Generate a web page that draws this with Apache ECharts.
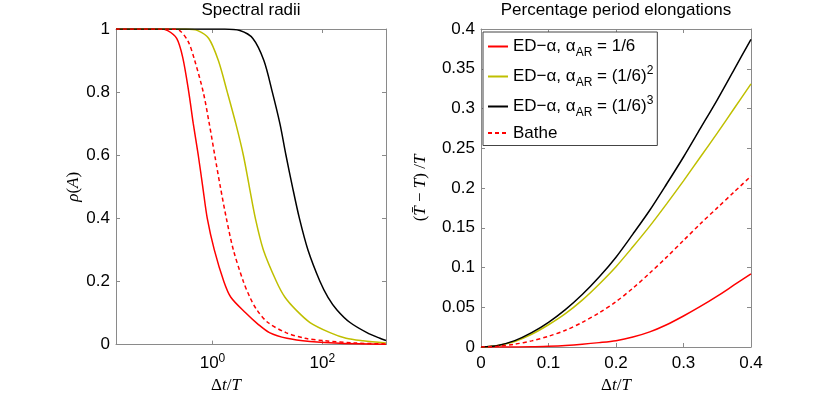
<!DOCTYPE html>
<html>
<head>
<meta charset="utf-8">
<script src="https://cdn.jsdelivr.net/npm/echarts@6/dist/echarts.min.js"></script>
<style>
  html, body { margin: 0; padding: 0; background: #fff; }
  #main { width: 830px; height: 399px; }
</style>
</head>
<body>
<div id="main"></div>
<script>
// spectral radii, [dt/T, rho]
var rhoEd1 = [[0.0175, 1], [0.109, 1], [0.153, 0.995], [0.223, 0.97], [0.287, 0.91], [0.370, 0.8], [0.447, 0.7],
	[0.551, 0.6], [0.665, 0.5], [0.804, 0.4], [1.08, 0.3], [1.61, 0.2], [2.16, 0.15], [4.05, 0.1], [6.71, 0.065],
	[10.9, 0.038], [22.7, 0.02], [59.7, 0.01], [210, 0.004], [1445, 0.001]];
var rhoEd2 = [[0.0175, 1], [0.326, 1], [0.539, 0.995], [0.856, 0.97], [1.28, 0.9], [1.86, 0.8], [2.66, 0.7],
	[3.65, 0.6], [4.69, 0.5], [6.04, 0.4], [8.45, 0.3], [14.6, 0.2], [20.9, 0.15], [33.1, 0.11], [59.7, 0.07],
	[138, 0.038], [271, 0.02], [553, 0.012], [1445, 0.005]];
var rhoEd3 = [[0.0175, 1], [1.68, 1], [3.15, 0.995], [5.44, 0.97], [8.63, 0.9], [12.3, 0.8], [16.9, 0.7],
	[21.8, 0.6], [28.6, 0.5], [38.3, 0.4], [54.8, 0.3], [90.8, 0.2], [127, 0.15], [185, 0.11], [320, 0.07],
	[649, 0.038], [1120, 0.02], [1445, 0.013]];
var rhoBathe = [[0.0175, 1], [0.181, 1], [0.253, 0.995], [0.362, 0.96], [0.475, 0.9], [0.679, 0.8], [0.874, 0.7],
	[1.10, 0.6], [1.39, 0.5], [1.79, 0.4], [2.40, 0.3], [3.65, 0.2], [4.80, 0.15], [6.43, 0.11], [10.2, 0.07],
	[21.8, 0.038], [48.3, 0.02], [112, 0.012], [395, 0.005], [1445, 0.002]];

// period elongations
var peX = [0, 0.025, 0.05, 0.075, 0.1, 0.125, 0.15, 0.175, 0.2, 0.225, 0.25, 0.275, 0.3, 0.325, 0.35, 0.375, 0.4];
var peEd1 = [0, 0, 0.0001, 0.0003, 0.001, 0.002, 0.0035, 0.0055, 0.008, 0.0125, 0.019, 0.028, 0.039, 0.051, 0.064, 0.078, 0.092];
var peEd2 = [0, 0.002, 0.007, 0.016, 0.028, 0.042, 0.059, 0.079, 0.101, 0.126, 0.152, 0.180, 0.209, 0.239, 0.269, 0.300, 0.331];
var peEd3 = [0, 0.002, 0.008, 0.018, 0.031, 0.047, 0.066, 0.088, 0.113, 0.142, 0.172, 0.205, 0.239, 0.275, 0.311, 0.349, 0.387];
var peBathe = [0, 0.001, 0.0035, 0.0077, 0.0135, 0.021, 0.031, 0.043, 0.057, 0.074, 0.093, 0.113, 0.134, 0.155, 0.175, 0.195, 0.215];

var names = ['ed1', 'ed2', 'ed3', 'bathe'];
var legendText = {
	ed1: '{t|ED\u2212\u03b1, \u03b1}{sub|AR}{t| = 1/6}',
	ed2: '{t|ED\u2212\u03b1, \u03b1}{sub|AR}{t| = (1/6)}{sup|2}',
	ed3: '{t|ED\u2212\u03b1, \u03b1}{sub|AR}{t| = (1/6)}{sup|3}',
	bathe: '{t|Bathe}'
};
var colors = {ed1: '#ff0000', ed2: '#bfbf00', ed3: '#000000', bathe: '#ff0000'};

var font = 'Liberation Sans, Arial, sans-serif';
var serif = 'Liberation Serif, DejaVu Serif, serif';
var boxColor = '#8a8a8a';

function pairs(xs, ys) {
	return xs.map(function (x, i) { return [x, ys[i]]; });
}

function lineSeries(name, data, idx, dashed) {
	return {
		name: name,
		type: 'line',
		xAxisIndex: idx,
		yAxisIndex: idx,
		data: data,
		symbol: 'none',
		smooth: 0.3,
		lineStyle: {color: colors[name], width: 1.5, type: dashed ? [4, 3] : 'solid'},
		itemStyle: {color: colors[name]},
		z: name === 'bathe' ? 3 : 2
	};
}

function boxAxis(pos, grid, type, min, max, interval, extra) {
	var a = {
		type: type,
		gridIndex: grid,
		position: pos,
		min: min,
		max: max,
		axisLine: {show: true, onZero: false, lineStyle: {color: boxColor, width: 1}},
		axisTick: {show: true, inside: true, length: 4, lineStyle: {color: boxColor}},
		axisLabel: {show: false},
		splitLine: {show: false}
	};
	if (interval) a.interval = interval;
	return Object.assign(a, extra || {});
}

var mathRich = {
	i: {fontFamily: serif, fontStyle: 'italic', fontSize: 17, color: '#000'},
	u: {fontFamily: serif, fontSize: 17, color: '#000'}
};

var chart = echarts.init(document.getElementById('main'));
var option = {
	animation: false,
	backgroundColor: '#fff',
	textStyle: {fontFamily: font},
	title: [
		{text: 'Spectral radii', left: 251, top: 2, padding: 0, textAlign: 'center',
			textStyle: {fontSize: 17, fontWeight: 'normal', color: '#000', fontFamily: font}},
		{text: 'Percentage period elongations', left: 616, top: 2, padding: 0, textAlign: 'center',
			textStyle: {fontSize: 17, fontWeight: 'normal', color: '#000', fontFamily: font}}
	],
	grid: [
		{left: 116, top: 29, width: 270, height: 325},
		{left: 481, top: 29, width: 270, height: 325}
	],
	legend: {
		data: names,
		orient: 'vertical',
		left: 483,
		top: 32,
		padding: [6, 4, 4, 4],
		itemGap: 6,
		itemWidth: 20,
		itemHeight: 10,
		itemStyle: {opacity: 0},
		backgroundColor: '#fff',
		borderColor: '#444',
		borderWidth: 1,
		borderRadius: 0,
		formatter: function (n) { return legendText[n]; },
		textStyle: {
			rich: {
				t: {fontSize: 17, fontFamily: font, color: '#000', lineHeight: 26},
				sub: {fontSize: 12, fontFamily: font, color: '#000', padding: [12, 0, 0, 0]},
				sup: {fontSize: 12, fontFamily: font, color: '#000', padding: [0, 0, 12, 0]}
			}
		}
	},
	xAxis: [
		boxAxis('bottom', 0, 'log', 0.0175, 1445, null, {
			logBase: 10,
			name: '{u|\u0394}{i|t}{u|/}{i|T}',
			nameLocation: 'middle',
			nameGap: 30,
			nameTextStyle: {rich: mathRich, padding: [0, 50, 0, 0]},
			axisTick: {show: true, inside: true, length: 4, lineStyle: {color: boxColor}, customValues: [1, 100]},
			axisLabel: {
				show: true, margin: 8, color: '#000', customValues: [1, 100],
				formatter: function (v) { return '{b|10}{s|' + Math.round(Math.log10(v)) + '}'; },
				rich: {
					b: {fontSize: 17, fontFamily: font, color: '#000'},
					s: {fontSize: 12, fontFamily: font, color: '#000', padding: [0, 0, 10, 0]}
				}
			}
		}),
		boxAxis('top', 0, 'log', 0.0175, 1445, null, {
			logBase: 10,
			axisTick: {show: true, inside: true, length: 4, lineStyle: {color: boxColor}, customValues: [1, 100]}
		}),
		boxAxis('bottom', 1, 'value', 0, 0.4, 0.1, {
			name: '{u|\u0394}{i|t}{u|/}{i|T}',
			nameLocation: 'middle',
			nameGap: 30,
			nameTextStyle: {rich: mathRich},
			axisLabel: {show: true, margin: 8, fontSize: 17, color: '#000', fontFamily: font}
		}),
		boxAxis('top', 1, 'value', 0, 0.4, 0.1)
	],
	yAxis: [
		boxAxis('left', 0, 'value', 0, 1, 0.2, {
			name: '{i|\u03c1}{u|(}{i|A}{u|)}',
			nameLocation: 'middle',
			nameGap: 27,
			nameTextStyle: {rich: mathRich},
			axisLabel: {show: true, margin: 6, fontSize: 17, color: '#000', fontFamily: font}
		}),
		boxAxis('right', 0, 'value', 0, 1, 0.2),
		boxAxis('left', 1, 'value', 0, 0.4, 0.05, {
			name: '{u|(}{i|T\u0304}{u| \u2212 }{i|T}{u|) /}{i|T}',
			nameLocation: 'middle',
			nameGap: 52,
			nameTextStyle: {rich: mathRich},
			axisLabel: {show: true, margin: 6, fontSize: 17, color: '#000', fontFamily: font}
		}),
		boxAxis('right', 1, 'value', 0, 0.4, 0.05)
	],
	series: [
		lineSeries('ed1', rhoEd1, 0, false),
		lineSeries('ed2', rhoEd2, 0, false),
		lineSeries('ed3', rhoEd3, 0, false),
		lineSeries('bathe', rhoBathe, 0, true),
		Object.assign(lineSeries('ed1', pairs(peX, peEd1), 1, false), {xAxisIndex: 2, yAxisIndex: 2}),
		Object.assign(lineSeries('ed2', pairs(peX, peEd2), 1, false), {xAxisIndex: 2, yAxisIndex: 2}),
		Object.assign(lineSeries('ed3', pairs(peX, peEd3), 1, false), {xAxisIndex: 2, yAxisIndex: 2}),
		Object.assign(lineSeries('bathe', pairs(peX, peBathe), 1, true), {xAxisIndex: 2, yAxisIndex: 2})
	]
};
chart.setOption(option);
</script>
</body>
</html>
